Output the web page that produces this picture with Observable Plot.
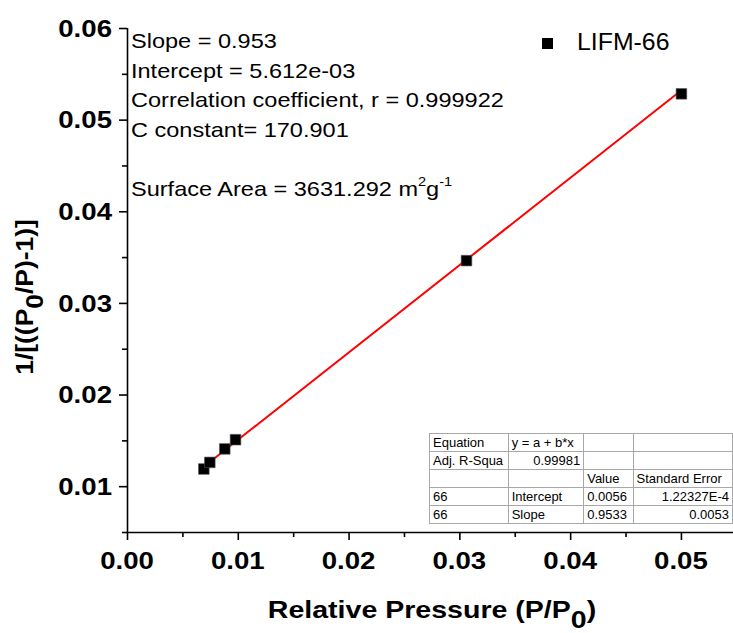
<!DOCTYPE html>
<html>
<head>
<meta charset="utf-8">
<script src="https://cdn.jsdelivr.net/npm/d3@7"></script>
<script src="https://cdn.jsdelivr.net/npm/@observablehq/plot@0.6"></script>
<style>
  html, body { margin: 0; padding: 0; background: #fff; overflow: hidden; }
  #wrap { position: relative; width: 733px; height: 633px; overflow: hidden;
          font-family: "Liberation Sans", Arial, sans-serif; color: #000; }
  #wrap svg { position: absolute; left: 0; top: 0; }
  #notes { position: absolute; left: 131px; top: 26px; font-size: 21px; line-height: 29.5px;
           white-space: nowrap; transform: scaleX(1.12); transform-origin: 0 0; }
  #notes sup { font-size: 13px; line-height: 0; vertical-align: baseline; position: relative; top: -10px; }
  #legend { position: absolute; left: 542px; top: 27px; height: 30px; white-space: nowrap; }
  #legend .sw { position: absolute; left: 0; top: 11px; width: 11px; height: 11px; background: #000; }
  #legend .lb { position: absolute; left: 35px; top: 0; font-size: 23px; line-height: 30px;
                transform: scaleX(1.08); transform-origin: 0 0; }
  #fit { position: absolute; left: 429px; top: 433px; border-collapse: collapse; table-layout: fixed;
         font-size: 13px; background: #fff; border: 1.5px solid #222; }
  #fit td { height: 17px; padding: 0 3px; border: 1px solid #a8a8a8; white-space: nowrap; overflow: hidden;
            line-height: 17px; }
  #fit td.r { text-align: right; }
</style>
</head>
<body>
<div id="wrap"></div>
<script>
// BET plot data: relative pressure vs 1/[((P0/P)-1)]
const pressure = [0.00689, 0.00743, 0.00878, 0.00975, 0.0306, 0.0500];
const betTerm = [0.01193, 0.01265, 0.01412, 0.01513, 0.03467, 0.05287];

// linear fit results
const slope = 0.953;
const intercept = 5.612e-3;

const xTicks = [0, 0.01, 0.02, 0.03, 0.04, 0.05];
const xMinorTicks = [0.005, 0.015, 0.025, 0.035, 0.045];
const yTicks = [0.01, 0.02, 0.03, 0.04, 0.05, 0.06];
const yMinorTicks = [0.005, 0.015, 0.025, 0.035, 0.045, 0.055];

const seriesName = "LIFM-66";
const fitNotes = [
  "Slope = 0.953",
  "Intercept = 5.612e-03",
  "Correlation coefficient, r = 0.999922",
  "C constant= 170.901"
];
const surfaceArea = "3631.292";

const tableColWidths = [79, 77, 50, 101];
const tableRows = [
  ["Equation", "y = a + b*x", "", ""],
  ["Adj. R-Squa", "0.99981", "", ""],
  ["", "", "Value", "Standard Error"],
  ["66", "Intercept", "0.0056", "1.22327E-4"],
  ["66", "Slope", "0.9533", "0.0053"]
];

const points = pressure.map((x, i) => ({x, y: betTerm[i]}));
const fitLine = d3.extent(pressure).map(x => ({x, y: intercept + slope * x}));

const font = '"Liberation Sans", Arial, sans-serif';
const noLabel = () => "";

const plot = Plot.plot({
  width: 733,
  height: 633,
  marginLeft: 127,
  marginRight: 0,
  marginTop: 28,
  marginBottom: 101,
  style: {fontFamily: font, background: "transparent", color: "#000", overflow: "visible"},
  x: {domain: [0, 0.0547], label: null},
  y: {domain: [0.005, 0.06], label: null},
  marks: [
    Plot.ruleX([0], {stroke: "#000", strokeWidth: 1.6}),
    Plot.ruleY([0.005], {stroke: "#000", strokeWidth: 1.6}),
    Plot.axisX(xMinorTicks, {tickSize: 5, strokeWidth: 1.6, tickFormat: noLabel, label: null}),
    Plot.axisY(yMinorTicks, {tickSize: 5, strokeWidth: 1.6, tickFormat: noLabel, label: null}),
    Plot.axisX(xTicks, {tickSize: 8, strokeWidth: 1.6, tickFormat: noLabel, label: null}),
    Plot.axisY(yTicks, {tickSize: 8, strokeWidth: 1.6, tickFormat: noLabel, label: null}),
    Plot.line(fitLine, {x: "x", y: "y", stroke: "#ff0000", strokeWidth: 2}),
    Plot.dot(points, {x: "x", y: "y", symbol: "square", r: 6, fill: "#000", stroke: "#555", strokeWidth: 0.6})
  ]
});

const wrap = document.getElementById("wrap");
wrap.appendChild(plot);

const svg = d3.select(plot);
const xs = plot.scale("x"), ys = plot.scale("y");
const xBase = ys.apply(ys.domain[0]);   // bottom axis line
const yBase = xs.apply(xs.domain[0]);   // left axis line

// bold, slightly widened tick labels
const tickText = svg.append("g")
  .attr("font-family", font).attr("font-size", 24).attr("font-weight", "bold").attr("fill", "#000");
tickText.selectAll(".xt").data(xTicks).join("text")
  .attr("text-anchor", "middle")
  .attr("transform", d => `translate(${xs.apply(d)},${xBase + 36.5}) scale(1.15,1)`)
  .text(d => d.toFixed(2));
tickText.selectAll(".yt").data(yTicks).join("text")
  .attr("text-anchor", "end")
  .attr("transform", d => `translate(${yBase - 15},${ys.apply(d) + 8.6}) scale(1.15,1)`)
  .text(d => d.toFixed(2));

// axis titles with lowered zero
const xMid = (xs.range[0] + xs.range[1]) / 2;
const yMid = (ys.range[0] + ys.range[1]) / 2;

const xTitle = svg.append("text")
  .attr("transform", `translate(${xMid + 2},618) scale(1.19,1)`)
  .attr("text-anchor", "middle")
  .attr("font-family", font).attr("font-size", 24).attr("font-weight", "bold");
xTitle.append("tspan").text("Relative Pressure (P/P");
xTitle.append("tspan").attr("dy", 10).text("0");
xTitle.append("tspan").attr("dy", -10).text(")");

const yTitle = svg.append("text")
  .attr("transform", `translate(33,${yMid + 17}) rotate(-90) scale(1.1,1)`)
  .attr("text-anchor", "middle")
  .attr("font-family", font).attr("font-size", 24).attr("font-weight", "bold");
yTitle.append("tspan").text("1/[((P");
yTitle.append("tspan").attr("dy", 10).text("0");
yTitle.append("tspan").attr("dy", -10).text("/P)-1)]");

// fit summary text
const notes = document.createElement("div");
notes.id = "notes";
notes.innerHTML = fitNotes.map(s => `<div>${s}</div>`).join("") +
  `<div>&nbsp;</div><div>Surface Area = ${surfaceArea} m<sup>2</sup>g<sup>-1</sup></div>`;
wrap.appendChild(notes);

// legend
const legend = document.createElement("div");
legend.id = "legend";
legend.innerHTML = `<div class="sw"></div><div class="lb">${seriesName}</div>`;
wrap.appendChild(legend);

// fit statistics table
const table = document.createElement("table");
table.id = "fit";
const colgroup = document.createElement("colgroup");
tableColWidths.forEach(w => {
  const c = document.createElement("col");
  c.style.width = w + "px";
  colgroup.appendChild(c);
});
table.appendChild(colgroup);
const isNumber = s => /^[0-9.E+-]+$/.test(s);
tableRows.forEach(row => {
  const tr = document.createElement("tr");
  row.forEach((cell, j) => {
    const td = document.createElement("td");
    td.textContent = cell;
    if ((j === 1 || j === 3) && isNumber(cell)) td.className = "r";
    tr.appendChild(td);
  });
  table.appendChild(tr);
});
wrap.appendChild(table);
</script>
</body>
</html>
